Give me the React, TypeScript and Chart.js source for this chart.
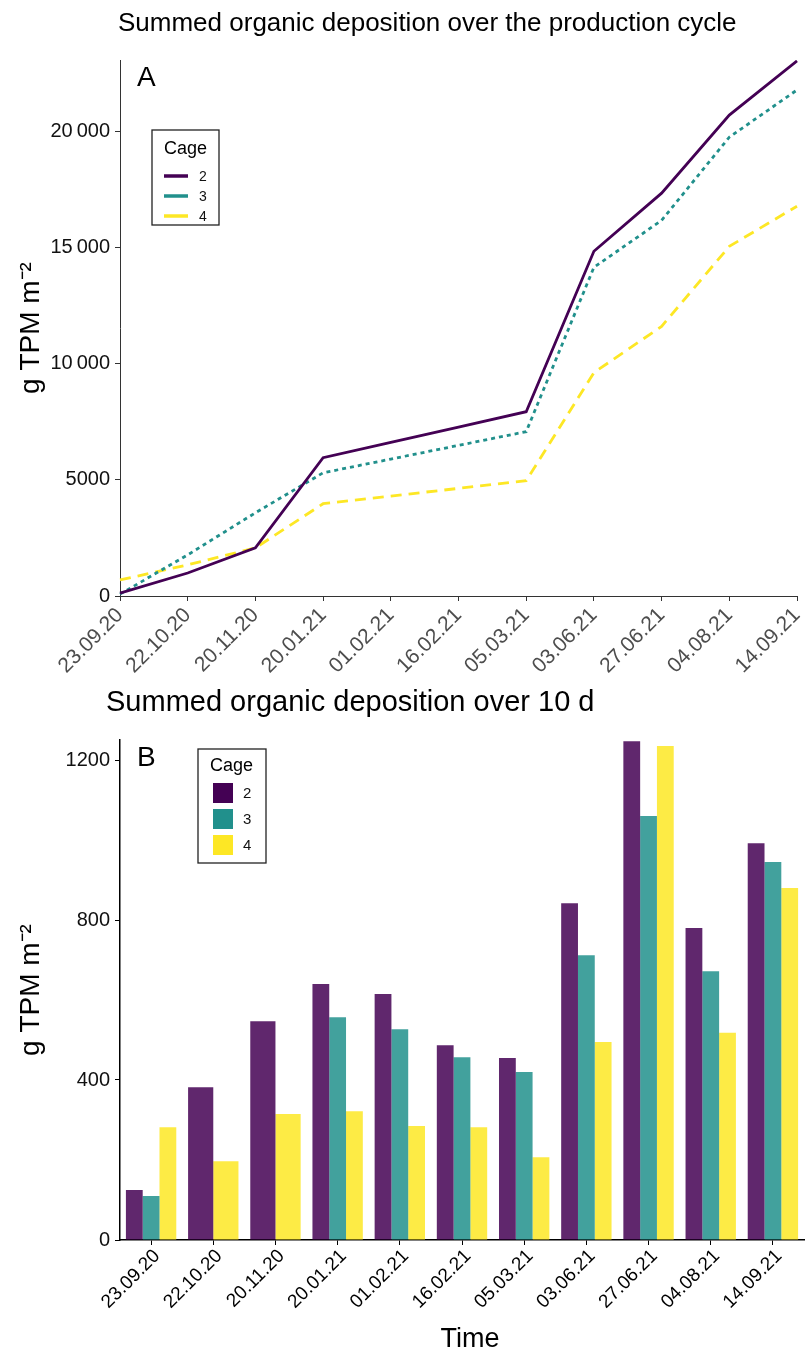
import React, { useEffect, useRef } from "react";
import { Chart, registerables } from "chart.js";

Chart.register(...registerables);

const FONT = '"Liberation Sans", Arial, Helvetica, sans-serif';

// ---------- data ----------
const dates = [
  "23.09.20", "22.10.20", "20.11.20", "20.01.21", "01.02.21", "16.02.21",
  "05.03.21", "03.06.21", "27.06.21", "04.08.21", "14.09.21",
];
const cages = ["2", "3", "4"];

// Panel A: summed organic deposition over the production cycle (g TPM m-2)
const cumCage2 = [120, 990, 2070, 5950, 6610, 7270, 7930, 14830, 17330, 20690, 23020];
const cumCage3 = [80, 1770, 3580, 5300, 5890, 6480, 7070, 14140, 16160, 19740, 21770];
const cumCage4 = [690, 1340, 2070, 3970, 4300, 4630, 4960, 9610, 11600, 15040, 16770];
const cumTicks = [0, 5000, 10000, 15000, 20000];
const cumMax = 23060;

// Panel B: summed organic deposition over 10 d (g TPM m-2)
const tenDayCage2 = [125, 382, 547, 640, 615, 487, 455, 842, 1247, 780, 992];
const tenDayCage3 = [110, null, null, 557, 527, 457, 420, 712, 1060, 672, 945];
const tenDayCage4 = [282, 197, 315, 322, 285, 282, 207, 495, 1235, 518, 880];
const tenDayTicks = [0, 400, 800, 1200];
const tenDayMax = 1250;

const titleA = "Summed organic deposition over the production cycle";
const titleB = "Summed organic deposition over 10 d";
const yTitle = "g TPM m\u207B\u00B2";
const xTitleB = "Time";

// ---------- styles ----------
const viridis = ["#440154", "#21908C", "#FDE725"];
const barFill = ["rgba(68,1,84,0.85)", "rgba(33,144,140,0.85)", "rgba(253,231,37,0.85)"];
const lineDash = [[], [4, 4], [11, 7]];

const fmt = (v: number) =>
  v >= 10000 ? String(v).replace(/\B(?=(\d{3})+(?!\d))/g, "\u2009") : String(v);

const decorPlugin = {
  id: "decor",
  afterDraw(chart: any, _args: any, opts: any) {
    const ctx = chart.ctx as CanvasRenderingContext2D;
    ctx.save();
    ctx.fillStyle = "#000";
    ctx.textAlign = "left";
    ctx.textBaseline = "alphabetic";
    ctx.font = `${opts.titleSize}px ${FONT}`;
    ctx.fillText(opts.title, opts.titleX, 31);
    ctx.font = `28px ${FONT}`;
    ctx.fillText(opts.letter, 137, 86);

    if (opts.xTitle) {
      ctx.textAlign = "center";
      ctx.font = `27px ${FONT}`;
      ctx.fillText(opts.xTitle, opts.xTitleX, opts.xTitleY);
      ctx.textAlign = "left";
    }

    // legend box
    const L = opts.legend;
    ctx.fillStyle = "#fff";
    ctx.fillRect(L.x, L.y, L.w, L.h);
    ctx.strokeStyle = "#222";
    ctx.lineWidth = 1.3;
    ctx.strokeRect(L.x, L.y, L.w, L.h);
    ctx.fillStyle = "#000";
    ctx.font = `18px ${FONT}`;
    ctx.fillText("Cage", L.titleX, L.titleY);
    const ds = chart.data.datasets;
    ds.forEach((d: any, i: number) => {
      const cy = L.itemY[i];
      if (L.kind === "line") {
        ctx.strokeStyle = d.borderColor;
        ctx.lineWidth = 3.5;
        ctx.setLineDash([]);
        ctx.beginPath();
        ctx.moveTo(L.keyX, cy);
        ctx.lineTo(L.keyX + 24, cy);
        ctx.stroke();
      } else {
        ctx.fillStyle = d.legendColor;
        ctx.fillRect(L.keyX, cy - 10, 20, 20);
      }
      ctx.fillStyle = "#111";
      ctx.font = `${L.labelSize}px ${FONT}`;
      ctx.textBaseline = "middle";
      ctx.fillText(d.label, L.labelX, cy + 1);
      ctx.textBaseline = "alphabetic";
    });
    ctx.restore();
  },
};

function CumulativeChart() {
  const ref = useRef<HTMLCanvasElement>(null);
  useEffect(() => {
    const series = [cumCage2, cumCage3, cumCage4];
    const chart = new Chart(ref.current!, {
      type: "line",
      data: {
        labels: dates,
        datasets: cages.map((c, i) => ({
          label: c,
          data: series[i],
          borderColor: viridis[i],
          backgroundColor: viridis[i],
          borderWidth: 2.8,
          borderDash: lineDash[i],
          pointRadius: 0,
          tension: 0,
          fill: false,
        })),
      },
      options: {
        responsive: false,
        animation: false,
        layout: { padding: { top: 60, right: 14, left: 0, bottom: 0 } },
        plugins: {
          legend: { display: false },
          title: { display: false },
          tooltip: { enabled: false },
          decor: {
            title: titleA,
            titleX: 118,
            titleSize: 26,
            letter: "A",
            legend: {
              kind: "line", x: 152, y: 130, w: 67, h: 95,
              titleX: 164, titleY: 154, keyX: 164, labelX: 199, labelSize: 14,
              itemY: [176, 196, 216],
            },
          },
        } as any,
        scales: {
          x: {
            type: "category",
            offset: false,
            grid: { drawOnChartArea: false, drawTicks: true, tickLength: 5, color: "#333" },
            border: { display: true, color: "#333", width: 1 },
            ticks: {
              autoSkip: false, minRotation: 45, maxRotation: 45, padding: 2,
              color: "#4D4D4D", font: { family: FONT, size: 21 },
            },
            afterFit: (s: any) => { s.height = 84; s.paddingLeft = 0; s.paddingRight = 0; },
          },
          y: {
            min: 0,
            max: cumMax,
            grid: { drawOnChartArea: false, drawTicks: true, tickLength: 5, color: "#333" },
            border: { display: true, color: "#333", width: 1 },
            afterBuildTicks: (s: any) => { s.ticks = cumTicks.map((v) => ({ value: v })); },
            ticks: {
              padding: 5, color: "#111", font: { family: FONT, size: 20 },
              callback: (v: any) => fmt(Number(v)),
            },
            title: {
              display: true, text: yTitle, color: "#000",
              font: { family: FONT, size: 28 }, padding: { top: 14, bottom: 0 },
            },
            afterFit: (s: any) => { s.width = 120; s.paddingTop = 0; s.paddingBottom = 0; },
          },
        },
      },
      plugins: [decorPlugin as any],
    });
    return () => chart.destroy();
  }, []);
  return <canvas ref={ref} width={811} height={680} style={{ display: "block" }} />;
}

function TenDayChart() {
  const ref = useRef<HTMLCanvasElement>(null);
  useEffect(() => {
    const series = [tenDayCage2, tenDayCage3, tenDayCage4];
    const chart = new Chart(ref.current!, {
      type: "bar",
      data: {
        labels: dates,
        datasets: cages.map((c, i) => ({
          label: c,
          data: series[i],
          backgroundColor: barFill[i],
          legendColor: viridis[i],
          borderWidth: 0,
          skipNull: true,
          categoryPercentage: 0.81,
          barPercentage: 1,
        })) as any,
      },
      options: {
        responsive: false,
        animation: false,
        layout: { padding: { top: 60, right: 7, left: 0, bottom: 0 } },
        plugins: {
          legend: { display: false },
          title: { display: false },
          tooltip: { enabled: false },
          decor: {
            title: titleB,
            titleX: 106,
            titleSize: 29,
            letter: "B",
            xTitle: xTitleB,
            xTitleX: 470,
            xTitleY: 667,
            legend: {
              kind: "bar", x: 198, y: 69, w: 68, h: 114,
              titleX: 210, titleY: 91, keyX: 213, labelX: 243, labelSize: 15,
              itemY: [113, 139, 165],
            },
          },
        } as any,
        scales: {
          x: {
            type: "category",
            offset: true,
            grid: { offset: false, drawOnChartArea: false, drawTicks: true, tickLength: 5, color: "#000" },
            border: { display: true, color: "#000", width: 1.5 },
            ticks: {
              autoSkip: false, minRotation: 45, maxRotation: 45, padding: 0, labelOffset: 6,
              color: "#000", font: { family: FONT, size: 19 },
            },
            afterFit: (s: any) => { s.height = 114; s.paddingLeft = 0; s.paddingRight = 0; },
          },
          y: {
            min: 0,
            max: tenDayMax,
            grid: { drawOnChartArea: false, drawTicks: true, tickLength: 5, color: "#000" },
            border: { display: true, color: "#000", width: 1.5 },
            afterBuildTicks: (s: any) => { s.ticks = tenDayTicks.map((v) => ({ value: v })); },
            ticks: {
              padding: 5, color: "#111", font: { family: FONT, size: 20 },
              callback: (v: any) => fmt(Number(v)),
            },
            title: {
              display: true, text: yTitle, color: "#000",
              font: { family: FONT, size: 28 }, padding: { top: 14, bottom: 0 },
            },
            afterFit: (s: any) => { s.width = 120; s.paddingTop = 0; s.paddingBottom = 0; },
          },
        },
      },
      plugins: [decorPlugin as any],
    });
    return () => chart.destroy();
  }, []);
  return <canvas ref={ref} width={811} height={674} style={{ display: "block" }} />;
}

export default function App() {
  return (
    <div style={{ position: "absolute", top: 0, left: 0, width: 811, height: 1354, background: "#fff" }}>
      <CumulativeChart />
      <TenDayChart />
    </div>
  );
}
